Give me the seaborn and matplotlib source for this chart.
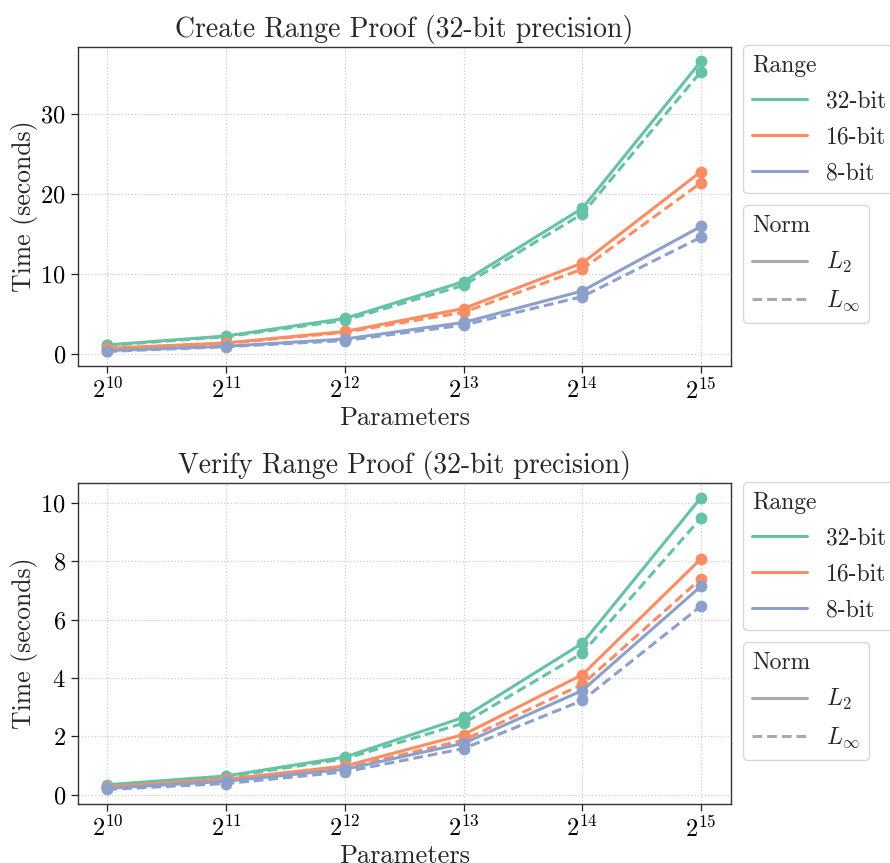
import numpy as np
import pandas as pd
import matplotlib
matplotlib.use("Agg")
import matplotlib.pyplot as plt
from matplotlib.lines import Line2D
import seaborn as sns

# ---------------- data ----------------
params = [2**10, 2**11, 2**12, 2**13, 2**14, 2**15]
x_tick_labels = [r"$2^{10}$", r"$2^{11}$", r"$2^{12}$", r"$2^{13}$", r"$2^{14}$", r"$2^{15}$"]
ranges = ["32-bit", "16-bit", "8-bit"]
norms = ["L2", "Linf"]
norm_labels = [r"$L_2$", r"$L_\infty$"]

create_32_l2 = [1.12, 2.24, 4.43, 9.03, 18.2, 36.6]
create_32_linf = [1.05, 2.15, 4.2, 8.57, 17.5, 35.3]
create_16_l2 = [0.7, 1.37, 2.8, 5.67, 11.35, 22.8]
create_16_linf = [0.65, 1.3, 2.7, 5.2, 10.6, 21.4]
create_8_l2 = [0.41, 0.95, 1.86, 3.93, 7.87, 15.94]
create_8_linf = [0.3, 0.9, 1.66, 3.6, 7.16, 14.6]

verify_32_l2 = [0.34, 0.64, 1.29, 2.65, 5.19, 10.19]
verify_32_linf = [0.3, 0.6, 1.23, 2.45, 4.85, 9.49]
verify_16_l2 = [0.27, 0.53, 0.98, 2.06, 4.11, 8.09]
verify_16_linf = [0.25, 0.5, 0.91, 1.87, 3.78, 7.41]
verify_8_l2 = [0.22, 0.46, 0.87, 1.76, 3.57, 7.15]
verify_8_linf = [0.18, 0.38, 0.78, 1.58, 3.23, 6.47]

titles = ["Create Range Proof (32-bit precision)", "Verify Range Proof (32-bit precision)"]


def make_df(series):
    rows = []
    for (rng, nrm), vals in series.items():
        for p, v in zip(params, vals):
            rows.append({"Parameters": p, "Time": v, "Range": rng, "Norm": nrm})
    return pd.DataFrame(rows)


df_create = make_df({
    ("32-bit", "L2"): create_32_l2, ("32-bit", "Linf"): create_32_linf,
    ("16-bit", "L2"): create_16_l2, ("16-bit", "Linf"): create_16_linf,
    ("8-bit", "L2"): create_8_l2, ("8-bit", "Linf"): create_8_linf,
})
df_verify = make_df({
    ("32-bit", "L2"): verify_32_l2, ("32-bit", "Linf"): verify_32_linf,
    ("16-bit", "L2"): verify_16_l2, ("16-bit", "Linf"): verify_16_linf,
    ("8-bit", "L2"): verify_8_l2, ("8-bit", "Linf"): verify_8_linf,
})

# ---------------- style ----------------
sns.set_style("whitegrid")
plt.rcParams["font.family"] = ["cmr10", "DejaVu Serif"]
plt.rcParams["mathtext.fontset"] = "cm"
plt.rcParams["axes.formatter.use_mathtext"] = True
plt.rcParams["axes.unicode_minus"] = False

palette = dict(zip(ranges, sns.color_palette("Set2", 3)))

fig = plt.figure(figsize=(8.9, 8.63), dpi=100)
ax_top = fig.add_axes([0.0873, 0.5759, 0.7337, 0.370])
ax_bot = fig.add_axes([0.0873, 0.0684, 0.7337, 0.372])

for ax, df, title, yt in [(ax_top, df_create, titles[0], [0, 10, 20, 30]),
                          (ax_bot, df_verify, titles[1], [0, 2, 4, 6, 8, 10])]:
    sns.lineplot(data=df, x="Parameters", y="Time", hue="Range", style="Norm",
                 hue_order=ranges, style_order=norms, palette=palette,
                 markers={"L2": "o", "Linf": "o"},
                 dashes={"L2": "", "Linf": (3.2, 1.6)},
                 linewidth=2.2, markersize=8.5, markeredgewidth=0,
                 legend=False, ax=ax)
    ax.set_xscale("log", base=2)
    ax.set_xticks(params)
    ax.set_xticklabels(x_tick_labels)
    ax.minorticks_off()
    ax.set_yticks(yt)
    ax.tick_params(axis="both", labelsize=17.5, length=5, width=0.9,
                   direction="out", bottom=True, left=True, colors="#222222",
                   labelcolor="black")
    ax.grid(True, linestyle=":", color="#cccccc", linewidth=0.9)
    for sp in ax.spines.values():
        sp.set_color("#333333")
        sp.set_linewidth(1.0)
    ax.set_xlabel("Parameters", fontsize=19, labelpad=2)
    ax.set_ylabel("Time (seconds)", fontsize=18.5, labelpad=2)
    ax.set_title(title, fontsize=20, pad=7)

# ---------------- legends ----------------
def add_legends(top_y_px, gap_px):
    range_handles = [Line2D([], [], color=palette[r], linewidth=2.2) for r in ranges]
    norm_handles = [Line2D([], [], color="#aaaaaa", linewidth=2.2, linestyle="-"),
                    Line2D([], [], color="#aaaaaa", linewidth=2.2, linestyle=(0, (3.2, 1.6)))]
    common = dict(loc="upper left", fontsize=17, title_fontsize=17, frameon=True,
                  fancybox=True, edgecolor="#cccccc", handlelength=2.3,
                  borderpad=0.4, labelspacing=0.58, handletextpad=0.8,
                  borderaxespad=0.0, alignment="left")
    l1 = fig.legend(range_handles, ranges, title="Range",
                    bbox_to_anchor=(743 / 890, 1 - top_y_px / 863), **common)
    l2 = fig.legend(norm_handles, norm_labels, title="Norm",
                    bbox_to_anchor=(743 / 890, 1 - (top_y_px + gap_px) / 863), **common)
    return l1, l2


add_legends(45, 160)
add_legends(482, 160)

fig.savefig("out.png", dpi=100)
